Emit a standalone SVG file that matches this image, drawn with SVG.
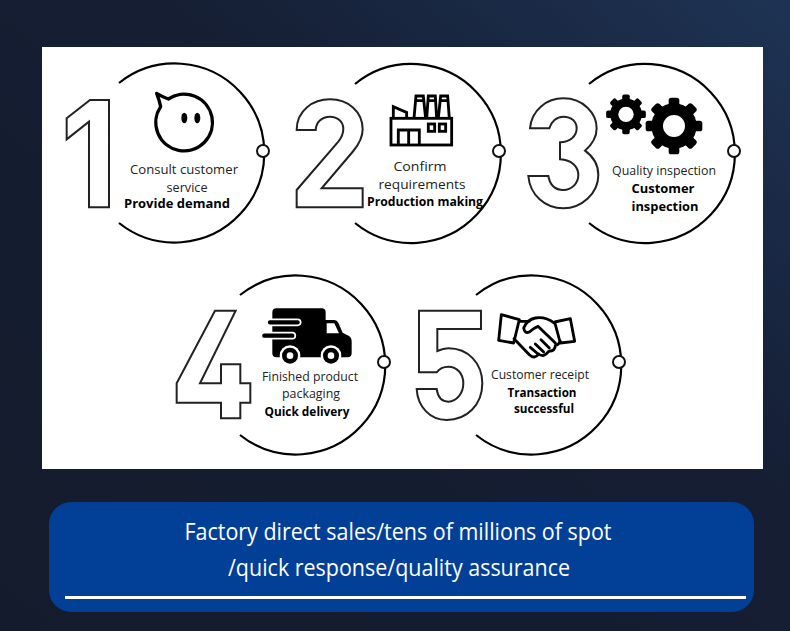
<svg xmlns="http://www.w3.org/2000/svg" width="790" height="631" viewBox="0 0 790 631">
<style>
.ring{fill:none;stroke:#000;stroke-width:2.2}
.dot{fill:#fff;stroke:#111;stroke-width:2}
.num{fill:#fff;stroke:#222;stroke-width:6;stroke-linejoin:miter}
.ln{fill:none;stroke:#000;stroke-width:8.5;stroke-linejoin:round;stroke-linecap:round}
text{font-family:"Open Sans","Noto Sans","Liberation Sans",sans-serif;text-anchor:middle;fill:#222}
.t{font-size:12.5px}
.b{font-size:12.5px;font-weight:700;fill:#000}
.h{font-size:23px;fill:#fff}
</style>
<defs>
<linearGradient id="bg" x1="0" y1="1" x2="1" y2="0">
<stop offset="0" stop-color="#141b2c"/><stop offset=".6" stop-color="#151e33"/><stop offset="1" stop-color="#1e3354"/>
</linearGradient>
<g id="gear">
<circle r="68"/>
<g id="teeth"><rect x="-16" y="-85" width="32" height="34" rx="8"/><rect x="-16" y="-85" width="32" height="34" rx="8" transform="rotate(45)"/><rect x="-16" y="-85" width="32" height="34" rx="8" transform="rotate(90)"/><rect x="-16" y="-85" width="32" height="34" rx="8" transform="rotate(135)"/><rect x="-16" y="-85" width="32" height="34" rx="8" transform="rotate(180)"/><rect x="-16" y="-85" width="32" height="34" rx="8" transform="rotate(225)"/><rect x="-16" y="-85" width="32" height="34" rx="8" transform="rotate(270)"/><rect x="-16" y="-85" width="32" height="34" rx="8" transform="rotate(315)"/></g>
<circle r="33" fill="#fff"/>
</g>
</defs>
<rect width="790" height="631" fill="url(#bg)"/>
<rect x="42" y="47" width="721" height="422" fill="#fff"/>

<g id="step1">
<path class="ring" d="M119 83A89.5 89.5 0 1 1 119 223"/>
<circle class="dot" cx="263" cy="151" r="6"/>
<g transform="translate(40 50) scale(.3333)">
<path class="num" d="M80 205L150 150H207V472H147V215L80 268Z"/>
<path class="ln" style="stroke-width:10" d="M350 130Q370 142 385 147A85 85 0 1 1 362 170Q358 150 350 130Z"/>
<ellipse cx="433" cy="204" rx="9" ry="16"/><ellipse cx="472" cy="204" rx="9" ry="16"/>
</g>
<text class="t" x="184" y="174" textLength="108" lengthAdjust="spacingAndGlyphs">Consult customer</text>
<text class="t" x="187" y="192" textLength="41" lengthAdjust="spacingAndGlyphs">service</text>
<text class="b" x="177" y="208" textLength="106" lengthAdjust="spacingAndGlyphs">Provide demand</text>
</g>

<g id="step2">
<path class="ring" d="M355 84A89.5 89.5 0 1 1 355 223"/>
<circle class="dot" cx="499" cy="151" r="6"/>
<g transform="translate(280 50) scale(.3333)">
<path class="num" d="M50 240C50 180 100 148 150 148C205 148 248 185 248 238C248 265 235 285 220 303L125 415H248V472H50V420L175 275C185 262 190 250 190 236C190 215 172 200 150 200C125 200 108 218 107 240Z"/>
<g class="ln" style="stroke-linecap:butt;stroke-linejoin:miter">
<rect x="333" y="205" width="182" height="80"/>
<path d="M355 285V240H418V285M386 240V285"/>
<rect x="445" y="222" width="19" height="22"/><rect x="478" y="222" width="19" height="22"/>
<path d="M402 205L408 138H430L437 205M405 152H433M440 205L445 138H466L470 205M443 152H468M475 205L482 138H503L508 205M479 152H505"/>
<path d="M340 205V170L380 187V205"/>
</g>
</g>
<text class="t" x="420" y="171" style="font-size:13.5px" textLength="53" lengthAdjust="spacingAndGlyphs">Confirm</text>
<text class="t" x="422" y="189" style="font-size:13px" textLength="87" lengthAdjust="spacingAndGlyphs">requirements</text>
<text class="b" x="425" y="206" style="font-size:12px" textLength="116" lengthAdjust="spacingAndGlyphs">Production making</text>
</g>

<g id="step3">
<path class="ring" d="M589 84A89.5 89.5 0 1 1 589 223"/>
<circle class="dot" cx="734" cy="151" r="6"/>
<g transform="translate(515 50) scale(.3333)">
<path class="num" d="M45 235C50 180 95 145 145 145C205 145 245 190 245 235C245 265 230 285 210 302C235 320 250 345 250 375C250 430 200 475 145 475C90 475 45 435 40 378H100C105 405 120 420 145 420C170 420 190 400 190 375C190 350 170 330 135 328V277C165 275 185 260 185 235C185 215 170 200 145 200C125 200 108 215 103 235Z"/>
</g>
<g transform="translate(600 90) scale(.3333)">
<use href="#gear" transform="translate(78 73) scale(.7)"/>
<use href="#gear" transform="translate(222 108)"/>
</g>
<text class="t" x="664" y="175" textLength="104" lengthAdjust="spacingAndGlyphs">Quality inspection</text>
<text class="b" x="663" y="193" textLength="63" lengthAdjust="spacingAndGlyphs">Customer</text>
<text class="b" x="665" y="211" textLength="67" lengthAdjust="spacingAndGlyphs">inspection</text>
</g>

<g id="step4">
<path class="ring" d="M240 295A89.5 89.5 0 1 1 240 435"/>
<circle class="dot" cx="384" cy="362" r="6"/>
<g transform="translate(165 265) scale(.3333)">
<path class="num" d="M150 137H212L105 355H168V298H226V355H256V413H226V460H168V413H35V355Z"/>
</g>
<g transform="translate(255 300) scale(.3333)">
<path d="M52 37Q52 25 64 25H200Q212 25 212 37V60H238Q246 60 250 68L263 98L282 108Q290 113 290 125V160Q290 172 278 172H64Q52 172 52 160Z"/>
<path d="M215 70H238L252 100H215Z" fill="#fff"/>
<path d="M45 67H128M28 107H112" fill="none" stroke="#fff" stroke-width="23" stroke-linecap="round"/>
<path d="M45 67H128M28 107H112" fill="none" stroke="#000" stroke-width="13" stroke-linecap="round"/>
<circle cx="105" cy="167" r="31" fill="#fff"/><circle cx="105" cy="167" r="24"/><circle cx="105" cy="167" r="10" fill="#fff"/>
<circle cx="228" cy="167" r="31" fill="#fff"/><circle cx="228" cy="167" r="24"/><circle cx="228" cy="167" r="10" fill="#fff"/>
</g>
<text class="t" x="310" y="381" textLength="96" lengthAdjust="spacingAndGlyphs">Finished product</text>
<text class="t" x="311" y="398" textLength="58" lengthAdjust="spacingAndGlyphs">packaging</text>
<text class="b" x="307" y="416" textLength="85" lengthAdjust="spacingAndGlyphs">Quick delivery</text>
</g>

<g id="step5">
<path class="ring" d="M476 295A89.5 89.5 0 1 1 476 435"/>
<circle class="dot" cx="619" cy="362" r="6"/>
<g transform="translate(405 265) scale(.3333)">
<path class="num" d="M42 137H228V192H97V258Q115 250 130 250C190 250 232 295 232 355C232 420 185 465 125 465C75 465 38 425 35 372H95C98 395 110 410 130 410C155 410 175 385 175 355C175 325 155 305 130 305C110 305 100 315 95 322H42Z"/>
</g>
<g transform="translate(492 308) scale(.3333)" class="ln">
<path d="M28 20L82 35L65 105L20 97Z"/>
<path d="M188 42L235 32L248 100L205 105Z"/>
<path d="M82 40H112M190 105L138 55Q125 60 112 72Q98 78 95 60Q105 35 130 30Q160 25 188 46"/>
<path d="M66 92L112 140Q128 155 140 138Q155 150 170 130Q190 130 190 112Q200 110 205 100"/>
<path d="M115 118L138 138M130 108L155 132M147 95L172 120"/>
</g>
<text class="t" x="540" y="379" textLength="98" lengthAdjust="spacingAndGlyphs">Customer receipt</text>
<text class="b" x="542" y="397" textLength="69" lengthAdjust="spacingAndGlyphs">Transaction</text>
<text class="b" x="544" y="413" textLength="60" lengthAdjust="spacingAndGlyphs">successful</text>
</g>

<g id="banner">
<rect x="49" y="502" width="705" height="110" rx="22" fill="#024098"/>
<text class="h" x="398" y="540" textLength="427" lengthAdjust="spacingAndGlyphs">Factory direct sales/tens of millions of spot</text>
<text class="h" x="399" y="576" textLength="342" lengthAdjust="spacingAndGlyphs">/quick response/quality assurance</text>
<rect x="65" y="596" width="681" height="3" fill="#fff"/>
</g>
</svg>
